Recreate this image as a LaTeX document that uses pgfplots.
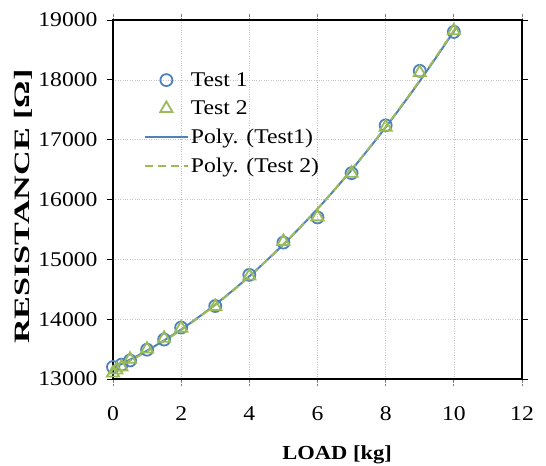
\documentclass[border=0pt]{standalone}
\usepackage{fontspec}
\setmainfont{Liberation Serif}[FakeStretch=1.13]
\usepackage{graphicx}
\usepackage{pgfplots}
\pgfplotsset{compat=1.18}

\definecolor{xlblue}{RGB}{79,129,189}
\definecolor{xlgreen}{RGB}{155,187,89}

\pgfplotsset{
    wide legend/.style={
        legend image code/.code={%
            \draw[mark repeat=2, mark phase=2, ##1]
                plot coordinates {(0bp,0bp) (21.5bp,0bp) (43bp,0bp)};}},
}

\begin{document}
\begin{tikzpicture}
    \useasboundingbox (-113bp,-87bp) rectangle (433bp,379bp);
    \begin{axis}[
        scale only axis,
        width=409bp, height=359bp,
        xmin=0, xmax=12,
        ymin=13000, ymax=19000,
        xtick={0,2,...,12},
        ytick={13000,14000,...,19000},
        scaled y ticks=false,
        /pgf/number format/1000 sep={},
        /pgf/number format/assume math mode=true,
        tick label style={font=\fontsize{21}{23}\selectfont},
        xticklabel style={yshift=-18bp},
        yticklabel style={xshift=-6bp},
        label style={font=\fontsize{20}{22}\selectfont\bfseries},
        xlabel={LOAD [kg]},
        ylabel={\fontsize{22}{24}\selectfont\scalebox{1.38}[1]{RESISTANCE [Ω]}},
        xlabel style={at={(axis description cs:0.548,-0.21)}, anchor=center},
        ylabel style={at={(axis description cs:-0.22,0.48)}, anchor=center},
        tick align=outside,
        major tick length=6bp,
        xtick style={gray, densely dotted, line width=0.8bp},
        ytick style={black, line width=0.9bp},
        axis line style={black, line width=2.2bp},
        grid=major,
        grid style={gray!45, dotted, line width=0.6bp},
        legend style={draw=none, fill=none, inner sep=0pt,
            at={(axis description cs:0.075,0.86)}, anchor=north west,
            font=\fontsize{21}{23}\selectfont, row sep=9bp},
        legend cell align=left,
        wide legend,
    ]
    % Test 1
    \addplot[only marks, mark=o, mark size=6bp, xlblue, line width=1.8bp, wide legend]
        coordinates {
        (0,13200)(0.25,13240)(0.5,13310)(1,13490)(1.5,13660)(2,13860)
        (3,14220)(4,14740)(5,15280)(6,15700)(7,16440)(8,17240)(9,18150)(10,18800)
        };
    % Test 2
    \addplot[only marks, mark=triangle, mark size=7bp, xlgreen, line width=1.8bp, wide legend]
        coordinates {
        (0,13100)(0.1,13150)(0.25,13200)(0.5,13330)(1,13500)(1.5,13680)(2,13850)
        (3,14210)(4,14720)(5,15300)(6,15710)(7,16440)(8,17210)(9,18120)(10,18820)
        };
    % Poly. (Test1)
    \addplot[xlblue, line width=2bp, smooth]
        coordinates {
        (0,13180)(1,13475)(2,13829)(3,14243)(4,14717)(5,15250)
        (6,15843)(7,16495)(8,17207)(9,17979)(10,18810)(10.1,18893)
        };
    % Poly. (Test 2)
    \addplot[xlgreen, line width=2bp, dash pattern=on 8bp off 5bp, smooth]
        coordinates {
        (0,13160)(1,13462)(2,13820)(3,14236)(4,14712)(5,15250)
        (6,15846)(7,16500)(8,17214)(9,17990)(10,18825)(10.1,18910)
        };
    \legend{Test 1, Test 2, Poly. (Test1), Poly. (Test 2)}
    \end{axis}
\end{tikzpicture}
\end{document}
